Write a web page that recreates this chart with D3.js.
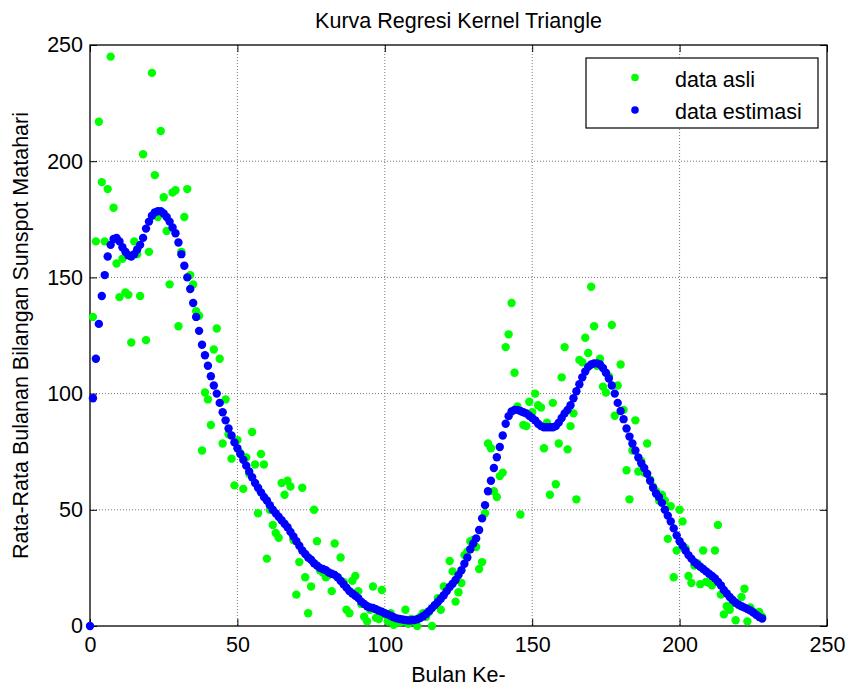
<!DOCTYPE html>
<html>
<head>
<meta charset="utf-8">
<script src="https://cdn.jsdelivr.net/npm/d3@7"></script>
<style>
  html, body { margin: 0; padding: 0; background: #fff; }
  svg text { font-family: "Liberation Sans", Arial, Helvetica, sans-serif; fill: #000; }
</style>
</head>
<body>
<div id="chart"></div>
<script>
// ---------------- DATA ----------------
const chartTitle = "Kurva Regresi Kernel Triangle";
const xLabel = "Bulan Ke-";
const yLabel = "Rata-Rata Bulanan Bilangan Sunspot Matahari";
const seriesNames = ["data asli", "data estimasi"];

const xTicks = [0, 50, 100, 150, 200, 250];
const yTicks = [0, 50, 100, 150, 200, 250];

// data asli: months 1..228
const dataAsli = [
  133, 165.5, 217, 191, 165.5, 188, 245, 180, 156, 141.5,
  158, 143.5, 142.5, 122, 165.5, 160, 142, 203, 123, 161,
  238, 194, 176, 213, 184.5, 170, 147, 186.5, 187.5, 129,
  161, 176, 188, 151, 147, 135.5, 133.5, 75.5, 100.5, 97.5,
  86.5, 119, 128, 115, 78.5, 97.5, 82.5, 72, 60.5, 80,
  74.5, 59, 72.5, 65.5, 83.5, 69.5, 48.5, 74, 69.5, 29,
  50, 43.5, 40, 38, 61.5, 56.5, 62.5, 60, 37, 13.5,
  27.5, 59.5, 21, 5.5, 17, 50, 36.5, 24, 23, 21,
  22, 15, 35.5, 21, 29.5, 19, 7, 5.5, 19.5, 21.5,
  15, 9.5, 4, 2, 7, 17, 3.5, 3, 15.5, 5,
  2, 5.5, 0.5, 3, 1.5, 2, 7, 1, 3, 2,
  0, 4, 5.5, 4, 6, 0, 9, 12, 7, 17,
  16, 28, 23.5, 10.5, 14.5, 18.5, 30.5, 32, 36.5, 37,
  34, 24.5, 27.5, 48.5, 78.5, 76.5, 58, 55.5, 64.5, 66,
  120, 125.5, 139, 109, 94.5, 48, 86.5, 86, 96.5, 92,
  100, 95, 94, 76.5, 87.5, 56.5, 96, 61, 78.5, 107,
  120, 76, 86, 91.5, 54.5, 114.5, 113.5, 124, 117.5, 146,
  129, 112, 115, 103, 100.5, 107.5, 129.5, 90.5, 103.5, 112.5,
  93, 67, 54.5, 75.5, 88.5, 66.5, 71, 66, 78.5, 63,
  60, 58, 54, 56.5, 54, 37.5, 51.5, 21, 32.5, 50,
  45, 33.5, 21.5, 18.5, 26, 27, 18, 32.5, 19, 18.5,
  17.5, 32.5, 43.5, 13.5, 5, 8.5, 7, 10, 2.5, 9,
  12.5, 16, 2, 8, 6, 5, 6, 4
];

// data estimasi: months 0..228
const dataEstimasi = [
  0,
  98, 115, 130, 142, 151, 159, 164, 166.5, 167, 165.5,
  163, 161, 159.5, 159, 160, 162, 164, 167, 171, 174,
  176.5, 178, 178.5, 178.5, 177.5, 176, 174, 171.5, 169, 165,
  160, 155, 150, 145, 139, 133, 127, 121, 116.5, 112,
  107.5, 103.5, 100, 96, 92, 88.5, 85, 82, 79, 76.5,
  74, 71.5, 69, 66.5, 64, 61.5, 59.5, 57.5, 55.5, 54,
  52, 50, 48.5, 47, 45.5, 44, 42.5, 40.5, 38.5, 36.5,
  34.5, 32.5, 31, 29.5, 28.5, 27, 26, 25, 24.5, 24,
  23, 22.5, 22, 21, 19.5, 18, 16.5, 15, 14, 13,
  12, 10.5, 9.5, 8.5, 8, 7.8, 7.2, 6.6, 6.1, 5.5,
  5, 4.4, 3.8, 3.3, 3, 2.8, 2.6, 2.4, 2.5, 2.6,
  2.9, 3.4, 4.2, 5.2, 6.4, 7.7, 9, 10.3, 11.7, 13.2,
  15, 16.8, 18.2, 19.8, 21.9, 24, 26.8, 29.5, 33, 35.5,
  37.7, 41.3, 46.3, 52, 58, 62.5, 68, 72.6, 77, 82,
  87, 90.3, 92.3, 93, 93, 92.5, 92, 91.5, 90.5, 89.5,
  88.5, 87, 86, 85.5, 85.5, 85.5, 85.5, 86, 87.5, 89.5,
  91.5, 93, 95, 98, 101, 104, 107, 109.5, 111.5, 112.5,
  113, 113, 112.5, 111, 109, 106.5, 103.5, 100, 96, 92.5,
  89, 85, 81.5, 78.5, 75.5, 72.5, 70, 68, 65.5, 62.5,
  59.5, 57, 55.5, 53, 50, 47.5, 45, 42, 39, 36.5,
  34.5, 32.5, 30.5, 29, 27.5, 26.5, 25.5, 24.5, 23.5, 22.5,
  21.5, 20.5, 19, 17.5, 15.5, 14, 12.5, 11.2, 10, 9.2,
  8.5, 7.9, 7.3, 6.7, 5.8, 4.8, 3.9, 3.2
];

const asliPoints = dataAsli.map((v, i) => ({ x: i + 1, y: v }));
const estimasiPoints = dataEstimasi.map((v, i) => ({ x: i, y: v }));

// ---------------- LAYOUT ----------------
const W = 847, H = 686;
const mLeft = 90, mRight = 827, mTop = 45, mBottom = 626;
const FS = 21.5;

const svg = d3.select("#chart").append("svg")
  .attr("width", W).attr("height", H)
  .attr("viewBox", `0 0 ${W} ${H}`);

svg.append("rect").attr("width", W).attr("height", H).attr("fill", "#fff");

const x = d3.scaleLinear().domain([0, 250]).range([mLeft, mRight]);
const y = d3.scaleLinear().domain([0, 250]).range([mBottom, mTop]);

// grid
const grid = svg.append("g").attr("class", "grid");
grid.selectAll("line.gx").data(xTicks.slice(1, -1)).join("line")
  .attr("x1", d => x(d)).attr("x2", d => x(d))
  .attr("y1", mTop).attr("y2", mBottom)
  .attr("stroke", "#777").attr("stroke-width", 1)
  .attr("stroke-dasharray", "1,2");
grid.selectAll("line.gy").data(yTicks.slice(1, -1)).join("line")
  .attr("x1", mLeft).attr("x2", mRight)
  .attr("y1", d => y(d)).attr("y2", d => y(d))
  .attr("stroke", "#777").attr("stroke-width", 1)
  .attr("stroke-dasharray", "1,2");

// axes
const tickLen = 7;
const axB = svg.append("g").attr("transform", `translate(0,${mBottom})`)
  .call(d3.axisBottom(x).tickValues(xTicks).tickSize(-tickLen).tickPadding(11).tickFormat(d3.format("d")));
const axL = svg.append("g").attr("transform", `translate(${mLeft},0)`)
  .call(d3.axisLeft(y).tickValues(yTicks).tickSize(-tickLen).tickPadding(7).tickFormat(d3.format("d")));
const axT = svg.append("g").attr("transform", `translate(0,${mTop})`)
  .call(d3.axisTop(x).tickValues(xTicks).tickSize(-tickLen).tickFormat(""));
const axR = svg.append("g").attr("transform", `translate(${mRight},0)`)
  .call(d3.axisRight(y).tickValues(yTicks).tickSize(-tickLen).tickFormat(""));
[axB, axL, axT, axR].forEach(a => {
  a.select(".domain").remove();
  a.selectAll(".tick line").attr("stroke", "#000").attr("stroke-width", 1);
  a.selectAll("text").attr("font-size", FS).attr("fill", "#000")
    .attr("font-family", '"Liberation Sans", Arial, sans-serif');
});

svg.append("rect")
  .attr("x", mLeft).attr("y", mTop)
  .attr("width", mRight - mLeft).attr("height", mBottom - mTop)
  .attr("fill", "none").attr("stroke", "#000").attr("stroke-width", 1.3);

// points
const R = 4.2;
svg.append("g").selectAll("circle").data(asliPoints).join("circle")
  .attr("cx", d => x(d.x)).attr("cy", d => y(d.y)).attr("r", R)
  .attr("fill", "#00ff00");
svg.append("g").selectAll("circle").data(estimasiPoints).join("circle")
  .attr("cx", d => x(d.x)).attr("cy", d => y(d.y)).attr("r", R)
  .attr("fill", "#0000ff");

// title and labels
svg.append("text").attr("x", (mLeft + mRight) / 2).attr("y", 28)
  .attr("text-anchor", "middle").attr("font-size", FS).text(chartTitle);
svg.append("text").attr("x", (mLeft + mRight) / 2).attr("y", 682)
  .attr("text-anchor", "middle").attr("font-size", FS).text(xLabel);
svg.append("text")
  .attr("transform", `translate(28,${(mTop + mBottom) / 2}) rotate(-90)`)
  .attr("text-anchor", "middle").attr("font-size", FS).text(yLabel);

// legend
const lg = svg.append("g");
lg.append("rect").attr("x", 586).attr("y", 58).attr("width", 232).attr("height", 70)
  .attr("fill", "#fff").attr("stroke", "#000").attr("stroke-width", 1.2);
const legendColors = ["#00ff00", "#0000ff"];
seriesNames.forEach((name, i) => {
  const cy = 77.5 + i * 32.5;
  lg.append("circle").attr("cx", 635).attr("cy", cy).attr("r", 3.8).attr("fill", legendColors[i]);
  lg.append("text").attr("x", 675).attr("y", cy + 9).attr("font-size", FS).text(name);
});
</script>
</body>
</html>
